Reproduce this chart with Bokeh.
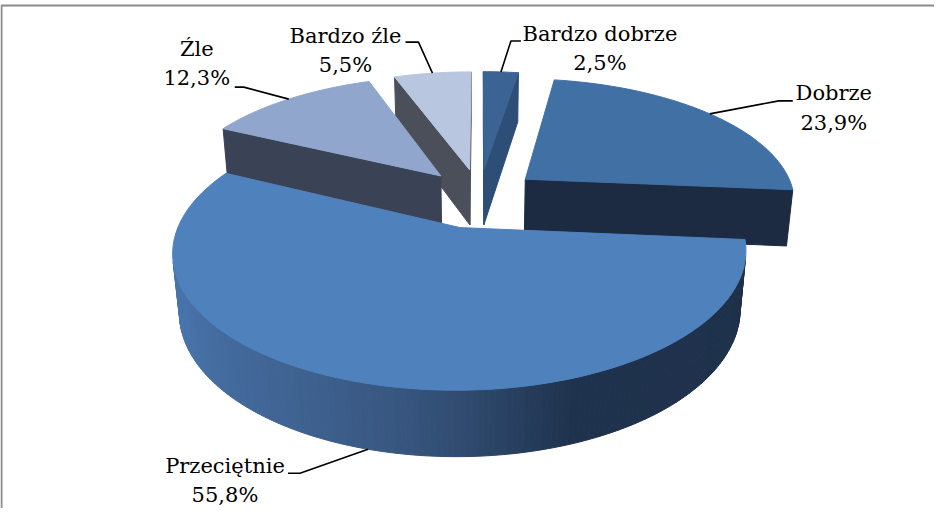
import numpy as np
from bokeh.plotting import figure
from bokeh.models import Range1d
from bokeh.embed import file_html
from bokeh.resources import INLINE
from bokeh.core.properties import value

# ---------------- data ----------------
categories = ["Bardzo dobrze", "Dobrze", "Przeciętnie", "Źle", "Bardzo źle"]
shares = [2.5, 23.9, 55.8, 12.3, 5.5]

# ---------------- styles ----------------
top_colors = ["#3B6393", "#4170A4", "#4F81BD", "#90A6CD", "#B9C6E0"]
side_colors = ["#2C4E77", "#1C2B42", "#2F4A6E", "#3A4355", "#4B4F5A"]
explode = [0.22, 0.22, 0.26, 0.22, 0.22]
wall_stops = [(95, (30, 48, 74)), (160, (31, 50, 77)), (178, (47, 74, 110)),
              (191, (56, 87, 129)), (210, (63, 99, 146)), (245, (72, 115, 170)),
              (300, (77, 122, 180))]
# label layout: (elbow dx, dy), (end dx, dy), (text centre dx, baseline dy) relative to anchor
label_layout = [((10, -31), (20, -31), (99, -30)),
                ((69, -13), (83, -13), (124, -12)),
                ((-68, 24), (-80, 24), (-143, 25)),
                ((-45, -12), (-54, -12), (-92, -42)),
                ((-14, -31), (-27, -31), (-87, -29))]
LINE_GAP = 29.5
FONT = "DejaVu Serif"
FONT_PX = 21
TEXT_DY = -0.4 * FONT_PX

# camera / projection
CX, CY = 487.0, 203.0
F = 1415.0
DIST = 5.24
TILT = np.radians(27.0)
H = 0.24
S, C = np.sin(TILT), np.cos(TILT)
CAM = np.array([0.0, DIST * S, -DIST * C])


def proj(X, Y, Z):
    X = np.atleast_1d(np.asarray(X, float))
    Z = np.atleast_1d(np.asarray(Z, float))
    Y = np.full_like(X, float(Y)) if np.isscalar(Y) else np.asarray(Y, float)
    d = DIST - S * Y + C * Z
    return CX + F * X / d, CY - F * (C * Y + S * Z) / d


def shade(theta):
    ts = [a for a, _ in wall_stops]
    rgb = [np.interp(theta, ts, [col[k] for _, col in wall_stops]) for k in range(3)]
    return "#%02x%02x%02x" % tuple(int(round(v)) for v in rgb)


total = float(sum(shares))
bounds = np.concatenate([[0.0], np.cumsum(shares)]) / total * 360.0
slices = []
for i in range(len(categories)):
    t1, t2 = bounds[i], bounds[i + 1]
    tm = 0.5 * (t1 + t2)
    r = np.radians(tm)
    slices.append(dict(i=i, t1=t1, t2=t2, tm=tm,
                       ox=explode[i] * np.sin(r), oz=explode[i] * np.cos(r)))

order = sorted(range(len(slices)),
               key=lambda k: -(slices[k]["oz"] + 0.5 * np.cos(np.radians(slices[k]["tm"]))))

pxs, pys, pcols = [], [], []


def add_poly(X, Y, Z, col):
    x, y = proj(X, Y, Z)
    pxs.append(list(x))
    pys.append(list(y))
    pcols.append(col)


for k in order:
    sl = slices[k]
    ox, oz, t1, t2 = sl["ox"], sl["oz"], sl["t1"], sl["t2"]
    pv = CAM - np.array([ox, 0.0, oz])
    # radial walls
    for t, is_start in ((t1, True), (t2, False)):
        r = np.radians(t)
        n = np.array([-np.cos(r), 0, np.sin(r)]) if is_start else np.array([np.cos(r), 0, -np.sin(r)])
        if pv.dot(n) > 0:
            X = [ox, ox + np.sin(r), ox + np.sin(r), ox]
            Yv = np.array([0, 0, -H, -H], float)
            Z = [oz, oz + np.cos(r), oz + np.cos(r), oz]
            add_poly(X, Yv, Z, side_colors[k])
    # outer curved wall
    th = np.linspace(t1, t2, max(2, int((t2 - t1) / 1.0) + 1))
    for a, b in zip(th[:-1], th[1:]):
        m = np.radians(0.5 * (a + b))
        pm = np.array([ox + np.sin(m), 0.0, oz + np.cos(m)])
        n = np.array([np.sin(m), 0.0, np.cos(m)])
        if (CAM - pm).dot(n) > 0:
            ra, rb = np.radians(a), np.radians(b)
            X = [ox + np.sin(ra), ox + np.sin(rb), ox + np.sin(rb), ox + np.sin(ra)]
            Yv = np.array([0, 0, -H, -H], float)
            Z = [oz + np.cos(ra), oz + np.cos(rb), oz + np.cos(rb), oz + np.cos(ra)]
            add_poly(X, Yv, Z, shade(0.5 * (a + b)))
    # top face
    th = np.radians(np.linspace(t1, t2, max(3, int((t2 - t1) / 1.0) + 1)))
    X = np.concatenate([[ox], ox + np.sin(th)])
    Z = np.concatenate([[oz], oz + np.cos(th)])
    add_poly(X, 0.0, Z, top_colors[k])

p = figure(width=934, height=508, output_backend="svg", toolbar_location=None,
           x_range=Range1d(8, 942), y_range=Range1d(516, 8),
           x_axis_location=None, y_axis_location=None,
           min_border=0, min_border_left=0, min_border_right=0,
           min_border_top=0, min_border_bottom=0)
p.grid.visible = False
p.outline_line_color = None
p.background_fill_color = "white"
p.border_fill_color = "white"

# chart-area frame (extends past the window on the right and bottom)
p.quad(left=[9], right=[1400], top=[13], bottom=[1400], fill_color=None,
       line_color="#8A8A8A", line_width=2)

p.patches(pxs, pys, fill_color=pcols, line_color=pcols, line_width=1)

# labels with leader lines
for sl in slices:
    k = sl["i"]
    m = np.radians(sl["tm"])
    front = np.cos(m) < 0
    ax, ay = proj([sl["ox"] + np.sin(m)], -H if front else 0.0, [sl["oz"] + np.cos(m)])
    ax, ay = float(ax[0]), float(ay[0])
    (ex, ey), (hx, hy), (tx, ty) = label_layout[k]
    p.line([ax, ax + ex, ax + hx], [ay, ay + ey, ay + hy], line_color="black", line_width=1.6)
    pct = ("%.1f" % shares[k]).replace(".", ",") + "%"
    y1 = ay + ty + TEXT_DY
    p.text(x=[ax + tx, ax + tx], y=[y1, y1 + LINE_GAP], text=[categories[k], pct],
           text_font=value(FONT), text_font_size=value("%dpx" % FONT_PX), text_color="black",
           text_align="center", text_baseline="alphabetic")

open("out.html", "w").write(file_html(p, INLINE))
